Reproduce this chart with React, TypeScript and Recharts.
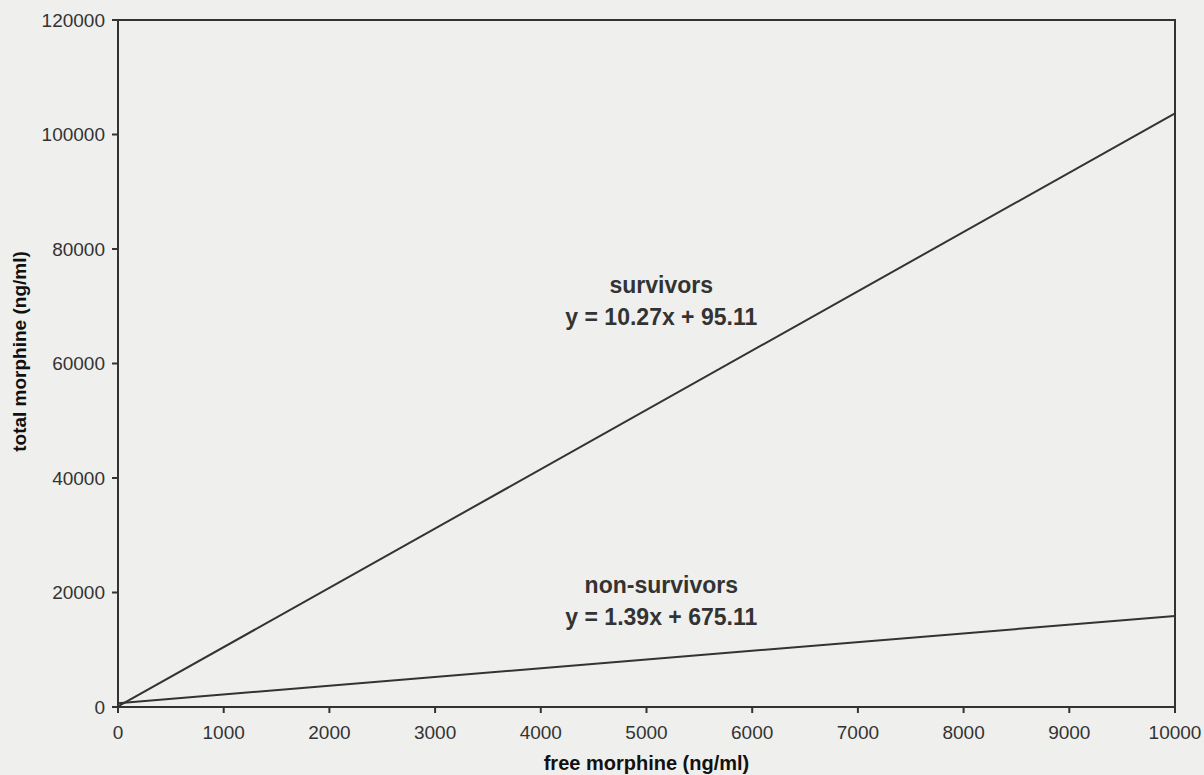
import React from "react";
import {
	LineChart,
	Line,
	XAxis,
	YAxis,
	ReferenceArea,
	ReferenceDot,
} from "recharts";

// free morphine (ng/ml) at both ends of the fitted lines
const freeMorphine = [0, 10000];
// total morphine (ng/ml)
const survivors = [95, 103700];
const nonSurvivors = [675, 15900];

const xTicks = [0, 1000, 2000, 3000, 4000, 5000, 6000, 7000, 8000, 9000, 10000];
const yTicks = [0, 20000, 40000, 60000, 80000, 100000, 120000];

const data = freeMorphine.map((x, i) => ({
	x,
	survivors: survivors[i],
	nonSurvivors: nonSurvivors[i],
}));

const INK = "#333";
const FONT = "'Liberation Sans', Arial, sans-serif";

const labelStyle = (value: string) => ({
	value,
	position: "center" as const,
	fill: INK,
	fontSize: 23,
	fontWeight: "bold",
	fontFamily: FONT,
});

export default function App() {
	return (
		<div style={{ position: "absolute", left: 0, top: 0, background: "#efefed" }}>
			<LineChart
				width={1204}
				height={775}
				data={data}
				margin={{ top: 20, right: 29, bottom: 23, left: 30 }}
			>
				<XAxis
					dataKey="x"
					type="number"
					domain={[0, 10000]}
					ticks={xTicks}
					stroke={INK}
					strokeWidth={2}
					tickSize={6}
					tickMargin={13}
					height={45}
					tick={{ fill: INK, fontSize: 19, fontFamily: FONT }}
					label={{
						value: "free morphine (ng/ml)",
						position: "insideBottom",
						offset: -18,
						fill: "#111",
						fontSize: 20,
						fontWeight: "bold",
						fontFamily: FONT,
					}}
				/>
				<YAxis
					type="number"
					domain={[0, 120000]}
					ticks={yTicks}
					stroke={INK}
					strokeWidth={2}
					tickSize={6}
					tickMargin={7}
					width={88}
					tick={{ fill: INK, fontSize: 19, fontFamily: FONT }}
					label={{
						value: "total morphine (ng/ml)",
						angle: -90,
						position: "insideLeft",
						offset: -11,
						dy: -12,
						style: { textAnchor: "middle" },
						fill: "#111",
						fontSize: 19,
						fontWeight: "bold",
						fontFamily: FONT,
					}}
				/>
				<ReferenceArea
					x1={0}
					x2={10000}
					y1={0}
					y2={120000}
					fill="none"
					stroke={INK}
					strokeWidth={2}
					ifOverflow="visible"
				/>
				<Line
					dataKey="survivors"
					type="linear"
					stroke={INK}
					strokeWidth={2}
					dot={false}
					isAnimationActive={false}
				/>
				<Line
					dataKey="nonSurvivors"
					type="linear"
					stroke={INK}
					strokeWidth={2}
					dot={false}
					isAnimationActive={false}
				/>
				<ReferenceDot x={5140} y={73700} r={0} fill="none" stroke="none" label={labelStyle("survivors")} />
				<ReferenceDot x={5140} y={68100} r={0} fill="none" stroke="none" label={labelStyle("y = 10.27x + 95.11")} />
				<ReferenceDot x={5140} y={21300} r={0} fill="none" stroke="none" label={labelStyle("non-survivors")} />
				<ReferenceDot x={5140} y={15700} r={0} fill="none" stroke="none" label={labelStyle("y = 1.39x + 675.11")} />
			</LineChart>
		</div>
	);
}
